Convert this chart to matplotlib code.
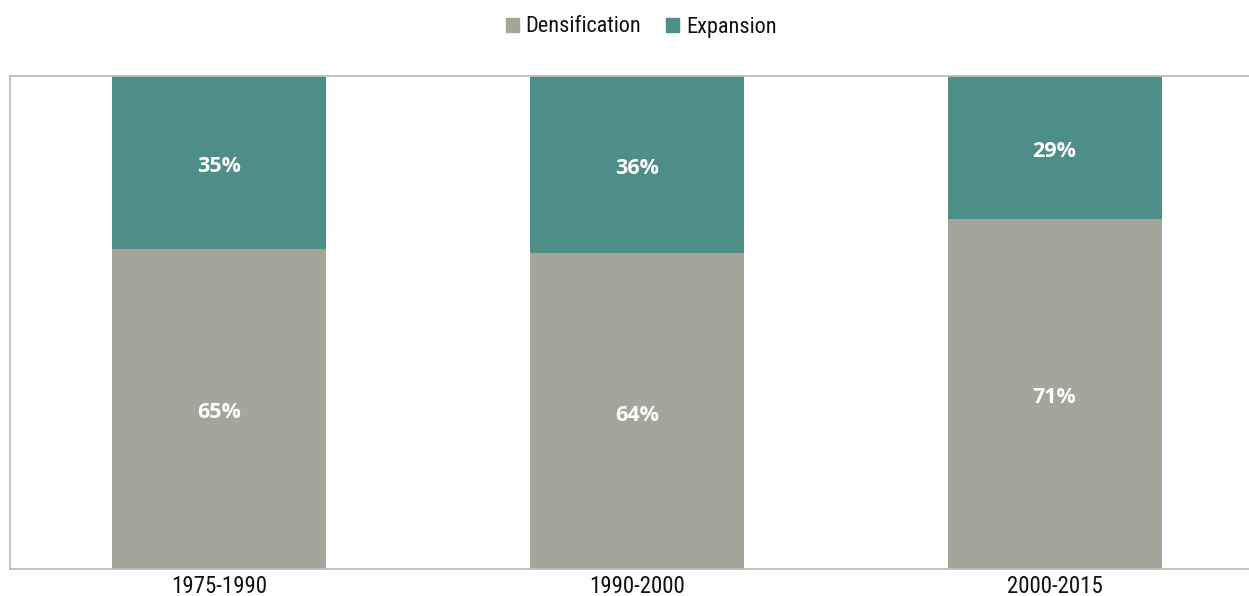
import numpy as np
import matplotlib
matplotlib.use("Agg")
import matplotlib.pyplot as plt
from matplotlib.patches import Patch

periods = ["1975-1990", "1990-2000", "2000-2015"]
densification = [65, 64, 71]
expansion = [35, 36, 29]

col_dens = "#A5A59C"
col_exp = "#4E8E88"
narrow = ["Roboto Condensed", "Liberation Sans", "DejaVu Sans"]

W, H = 1249, 596
fig = plt.figure(figsize=(W / 100, H / 100), dpi=100)
# plot box runs off the right edge of the figure
ax = fig.add_axes([10 / W, 1 - 569 / H, (1263.5 - 10) / W, (569 - 76) / H])

x = np.arange(len(periods))
bw = 0.512
ax.bar(x, densification, bw, color=col_dens, label="Densification")
ax.bar(x, expansion, bw, bottom=densification, color=col_exp, label="Expansion")

for i in range(len(periods)):
    ax.text(x[i], densification[i] / 2 - 0.8, f"{densification[i]}%", ha="center", va="center",
            color="white", fontsize=15.5, fontweight="bold", family="Open Sans")
    ax.text(x[i], densification[i] + expansion[i] / 2 - 0.8, f"{expansion[i]}%", ha="center", va="center",
            color="white", fontsize=15.5, fontweight="bold", family="Open Sans")

ax.set_xlim(-0.5, 2.5)
ax.set_ylim(0, 100)
ax.set_xticks(x)
ax.set_xticklabels(periods, family=narrow, fontsize=16.5, color="#111111")
ax.set_yticks([])
ax.tick_params(axis="x", length=0, pad=4)
for s in ["left", "top", "bottom"]:
    ax.spines[s].set_color("#BDBDBD")
    ax.spines[s].set_linewidth(1.3)
ax.spines["right"].set_visible(False)

handles = [Patch(color=col_dens), Patch(color=col_exp)]
fig.legend(handles, ["Densification", "Expansion"], loc="center", bbox_to_anchor=(641 / W, 1 - 27 / H),
           ncol=2, frameon=False, prop={"family": narrow, "size": 16},
           labelcolor="#111111", handlelength=0.6, handleheight=0.6, handletextpad=0.3,
           columnspacing=1.1)

fig.savefig("out.png", dpi=100)
